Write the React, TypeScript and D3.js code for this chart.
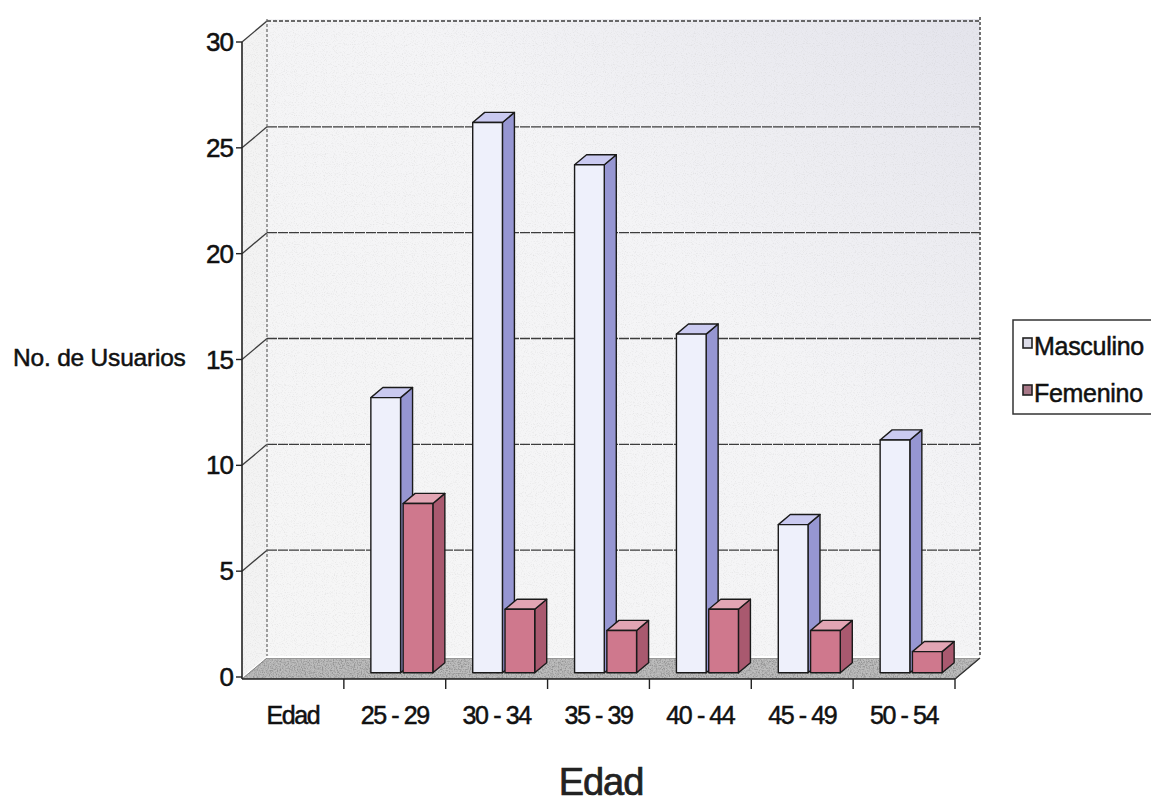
import React from "react";
import * as d3 from "d3";

const categories = ["Edad", "25 - 29", "30 - 34", "35 - 39", "40 - 44", "45 - 49", "50 - 54"];
const seriesNames = ["Masculino", "Femenino"];
const masculino: (number | null)[] = [null, 13, 26, 24, 16, 7, 11];
const femenino: (number | null)[] = [null, 8, 3, 2, 3, 2, 1];
const yTicks = [0, 5, 10, 15, 20, 25, 30];

const W = 1151, H = 804;
const X0 = 242, X1 = 955;
const Y0 = 677, Y30 = 42;
const DX = 25, DY = -21; // wall depth
const BD0 = 0.2, BD1 = 0.68; // bar depth fractions

const styles = {
  Masculino: { front: "#eef0fb", side: "#9696d2", top: "#cacaf0", legend: "#dcdce8" },
  Femenino: { front: "#cf788d", side: "#a9596f", top: "#e2a5b4", legend: "#a87888" },
} as Record<string, { front: string; side: string; top: string; legend: string }>;

export default function App() {
  const x = d3.scaleBand<string>().domain(categories).range([X0, X1]);
  const xs = d3.scaleBand<string>().domain(seriesNames).range([22, 84]).paddingInner(0.08);
  const y = d3.scaleLinear().domain([0, 30]).range([Y0, Y30]);
  const font = "'Liberation Sans', Arial, sans-serif";
  const txt = { fontFamily: font, fill: "#111", stroke: "#111", strokeWidth: 0.5 };

  const bars: JSX.Element[] = [];
  categories.forEach((c, i) => {
    const vals = [masculino[i], femenino[i]];
    seriesNames.forEach((s, j) => {
      const v = vals[j];
      if (v == null) return;
      const st = styles[s];
      const ox = DX * BD0, oy = DY * BD0;
      const dx = DX * (BD1 - BD0), dy = DY * (BD1 - BD0);
      const xl = (x(c) as number) + (xs(s) as number) + ox;
      const xr = xl + xs.bandwidth();
      const yt = y(v) + oy;
      const yb = y(0) + oy;
      bars.push(
        <g key={c + s} stroke="#1a1a1a" strokeWidth={1.4} strokeLinejoin="round">
          <polygon points={`${xr},${yt} ${xr + dx},${yt + dy} ${xr + dx},${yb + dy} ${xr},${yb}`} fill={st.side} />
          <polygon points={`${xl},${yt} ${xl + dx},${yt + dy} ${xr + dx},${yt + dy} ${xr},${yt}`} fill={st.top} />
          <rect x={xl} y={yt} width={xr - xl} height={yb - yt} fill={st.front} />
        </g>
      );
    });
  });

  const floor = `${X0},${Y0 + 2} ${X0 + DX},${Y0 + 2 + DY} ${X1 + DX},${Y0 + 2 + DY} ${X1},${Y0 + 2}`;

  return (
    <svg width={W} height={H} style={{ position: "absolute", left: 0, top: 0, background: "#fff" }}>
      <defs>
        <linearGradient id="wall" x1="0" y1="1" x2="1" y2="0">
          <stop offset="0" stopColor="#f6f6f6" />
          <stop offset="0.6" stopColor="#f4f4f6" />
          <stop offset="1" stopColor="#e4e4ec" />
        </linearGradient>
        <filter id="noise" x="0" y="0" width="100%" height="100%">
          <feTurbulence type="fractalNoise" baseFrequency="0.75" numOctaves="2" seed="3" result="t" />
          <feColorMatrix in="t" type="matrix" values="0 0 0 0 0.3  0 0 0 0 0.3  0 0 0 0 0.3  3 0 0 0 -1.2" result="n" />
          <feComposite in="n" in2="SourceGraphic" operator="in" result="nn" />
          <feMerge>
            <feMergeNode in="SourceGraphic" />
            <feMergeNode in="nn" />
          </feMerge>
        </filter>
        <filter id="noiseLight" x="0" y="0" width="100%" height="100%">
          <feTurbulence type="fractalNoise" baseFrequency="0.9" numOctaves="1" seed="7" result="t" />
          <feColorMatrix in="t" type="matrix" values="0 0 0 0 0.55  0 0 0 0 0.55  0 0 0 0 0.55  1.2 0 0 0 -0.62" result="n" />
          <feComposite in="n" in2="SourceGraphic" operator="in" result="nn" />
          <feMerge>
            <feMergeNode in="SourceGraphic" />
            <feMergeNode in="nn" />
          </feMerge>
        </filter>
      </defs>

      {/* back wall */}
      <rect x={X0 + DX} y={Y30 + DY - 2} width={X1 - X0} height={Y0 - Y30 + 2} fill="url(#wall)" filter="url(#noiseLight)" />
      {/* side wall */}
      <polygon points={`${X0},${Y30} ${X0 + DX},${Y30 + DY - 2} ${X0 + DX},${Y0 + DY} ${X0},${Y0}`} fill="#f3f3f3" filter="url(#noiseLight)" />

      {/* gridlines */}
      {yTicks.filter((t) => t > 0).map((t) => (
        <g key={t} stroke="#3c3c3c" strokeWidth={1.3} fill="none">
          <line x1={X0 + DX} x2={X1 + DX} y1={y(t) + DY} y2={y(t) + DY} strokeDasharray={t === 30 ? "4 2" : "10 1"} />
          <line x1={X0} y1={y(t)} x2={X0 + DX} y2={y(t) + DY} />
        </g>
      ))}
      <line x1={X0 + DX} x2={X0 + DX} y1={Y30 + DY - 2} y2={Y0 + DY} stroke="#666" strokeDasharray="3 2" strokeWidth={1.2} />
      <line x1={X1 + DX} x2={X1 + DX} y1={Y30 + DY - 4} y2={Y0 + DY} stroke="#444" strokeDasharray="3 2" strokeWidth={1.5} />

      {/* floor */}
      <polygon points={floor} fill="#bdbdbd" stroke="#777" strokeWidth={1} filter="url(#noise)" />

      {bars}

      {/* axes */}
      <line x1={X0} x2={X0} y1={Y30} y2={Y0 + 2} stroke="#222" strokeWidth={1.6} />
      {yTicks.map((t) => (
        <g key={t}>
          <line x1={X0 - 6} x2={X0} y1={y(t)} y2={y(t)} stroke="#222" strokeWidth={1.4} />
          <text x={X0 - 9} y={y(t) + 9} textAnchor="end" fontSize={26} letterSpacing={-1} {...txt}>{t}</text>
        </g>
      ))}
      <line x1={X0} x2={X1} y1={Y0 + 2} y2={Y0 + 2} stroke="#222" strokeWidth={1.6} />
      <line x1={X1} y1={Y0 + 2} x2={X1 + DX} y2={Y0 + 2 + DY} stroke="#333" strokeWidth={1.3} />
      {categories.map((c) => (
        <line key={c} x1={(x(c) as number) + x.bandwidth()} x2={(x(c) as number) + x.bandwidth()} y1={Y0 + 2} y2={Y0 + 12} stroke="#222" strokeWidth={1.4} />
      ))}
      {categories.map((c) => (
        <text key={c} x={(x(c) as number) + x.bandwidth() / 2} y={724} textAnchor="middle" fontSize={25} letterSpacing={-1.4} {...txt}>{c}</text>
      ))}

      {/* titles */}
      <text x={601} y={795} textAnchor="middle" fontSize={38} letterSpacing={-1} {...txt} fill="#222" stroke="#222" strokeWidth={0.7}>Edad</text>
      <text x={13} y={366} fontSize={24.5} letterSpacing={-0.2} {...txt}>No. de Usuarios</text>

      {/* legend */}
      <rect x={1013} y={320} width={150} height={94} fill="#fff" stroke="#333" strokeWidth={1.5} />
      {seriesNames.map((s, i) => (
        <g key={s}>
          <rect x={1023} y={338 + i * 47} width={9} height={10} fill={styles[s].legend} stroke="#222" strokeWidth={1.6} />
          <text x={1034} y={355 + i * 47} fontSize={25} letterSpacing={-0.3} {...txt}>{s}</text>
        </g>
      ))}
    </svg>
  );
}
